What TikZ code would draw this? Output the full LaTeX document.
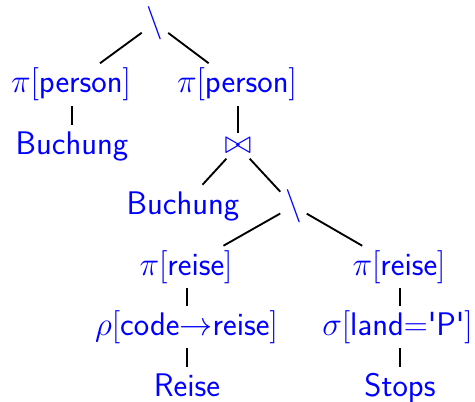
\documentclass[tikz,border=0pt]{standalone}
\usepackage{textcomp}
\begin{document}
\begin{tikzpicture}[x=0.75pt,y=-0.75pt,
  op/.style={text=blue, font=\fontsize{24.5}{29}\selectfont\sffamily,
             inner sep=3.5pt, anchor=center},
  lbl/.style={op, text height=18.4pt, text depth=6.1pt},
  edge/.style={draw=black, line width=1.4pt}]
\useasboundingbox (0,0) rectangle (475,401);

% operator tree
\node[op]  (root)  at (155,23)    {$\setminus$};
\node[lbl] (pl)    at (71,84.5)   {$\pi[$person$]$};
\node[lbl] (pr)    at (237,84.5)  {$\pi[$person$]$};
\node[lbl] (b1)    at (72,146)    {Buchung};
\node[op]  (join)  at (238,146)   {$\bowtie$};
\node[lbl] (b2)    at (183,206)   {Buchung};
\node[op]  (diff)  at (293.5,206) {$\setminus$};
\node[lbl] (rl)    at (186,267)   {$\pi[$reise$]$};
\node[lbl] (rr)    at (399,267)   {$\pi[$reise$]$};
\node[lbl] (rho)   at (186.5,327) {$\rho[$code$\rightarrow$reise$]$};
\node[lbl] (sig)   at (397.5,327) {$\sigma[$land$=$\textquotesingle P\textquotesingle$]$};
\node[lbl] (reise) at (187,388)   {Reise};
\node[lbl] (stops) at (400,388)   {Stops};

% slanted edges
\draw[edge] (root) -- (pl);
\draw[edge] (root) -- (pr);
\draw[edge] (join) -- (b2);
\draw[edge] (join) -- (diff);
\draw[edge] (diff) -- (rl);
\draw[edge] (diff) -- (rr);
% vertical edges, kept upright under each child
\draw[edge] (b1.north |- pl.south) -- (b1.north);
\draw[edge] (join.north |- pr.south) -- (join.north);
\draw[edge] (reise.north |- rl.south) -- (reise.north |- rho.north);
\draw[edge] (reise.north |- rho.south) -- (reise.north);
\draw[edge] (stops.north |- rr.south) -- (stops.north |- sig.north);
\draw[edge] (stops.north |- sig.south) -- (stops.north);
\end{tikzpicture}
\end{document}
